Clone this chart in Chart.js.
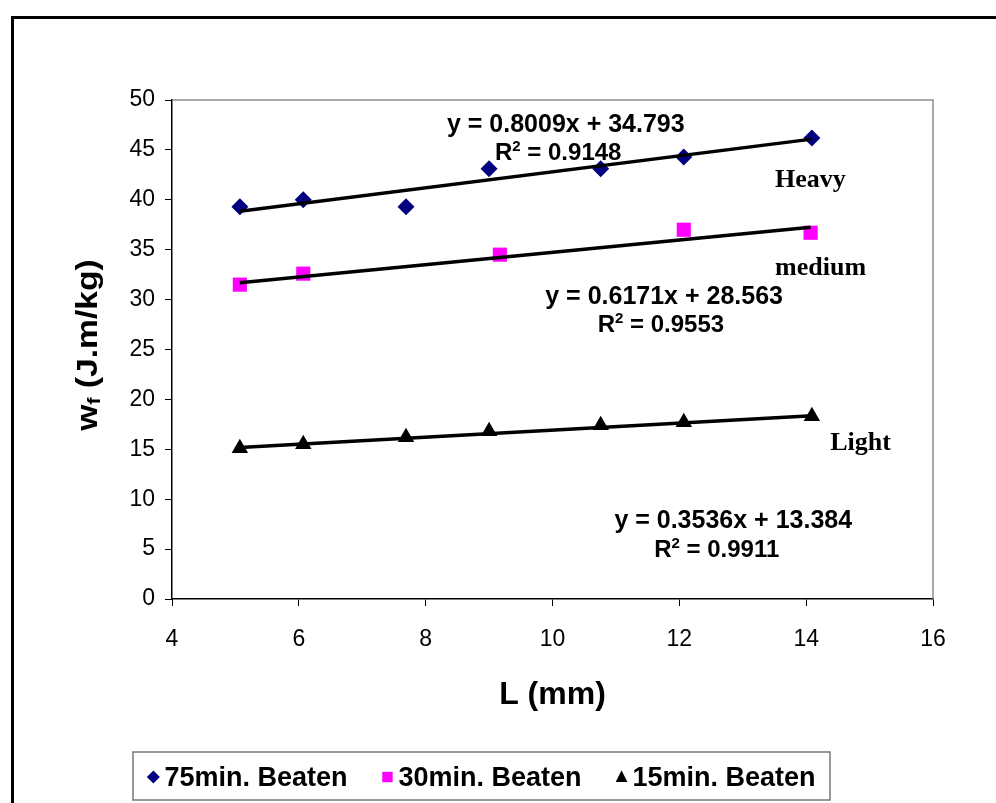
<!DOCTYPE html>
<html><head><meta charset="utf-8">
<script src="https://cdn.jsdelivr.net/npm/chart.js@4.4.1/dist/chart.umd.min.js"></script>
<style>
html,body{margin:0;padding:0;background:#fff;overflow:hidden;width:996px;height:803px}
#frame{position:absolute;left:11px;top:16px;width:1000px;height:800px;border-left:3px solid #000;border-top:3px solid #000;}
#wrap{position:absolute;left:0;top:0;width:996px;height:803px}
</style></head><body>
<div id="frame"></div>
<div id="wrap"><canvas id="c" width="996" height="803"></canvas></div>
<script>
// ---- data ----
const heavyX  = [5.07, 6.07, 7.69, 9.0, 10.76, 12.07, 14.09];
const heavyY  = [39.3, 40.0, 39.3, 43.1, 43.1, 44.3, 46.2];
const mediumX = [5.07, 6.07, 9.17, 12.07, 14.07];
const mediumY = [31.5, 32.6, 34.5, 37.0, 36.7];
const lightX  = [5.07, 6.07, 7.69, 9.0, 10.76, 12.07, 14.09];
const lightY  = [15.1, 15.5, 16.2, 16.8, 17.4, 17.7, 18.3];
// trendline end points (from the printed equations)
const heavyTrendX  = [5.07, 14.09];
const heavyTrendY  = [38.85, 46.08];
const mediumTrendX = [5.07, 14.07];
const mediumTrendY = [31.69, 37.25];
const lightTrendX  = [5.07, 14.09];
const lightTrendY  = [15.18, 18.37];

const seriesNames = ['75min. Beaten', '30min. Beaten', '15min. Beaten'];
const groupNames  = ['Heavy', 'medium', 'Light'];
const equations   = ['y = 0.8009x + 34.793', 'y = 0.6171x + 28.563', 'y = 0.3536x + 13.384'];
const rSquared    = ['0.9148', '0.9553', '0.9911'];
const xAxisTitle  = 'L (mm)';
const yAxisTitleMain = 'w', yAxisTitleSub = 'f', yAxisTitleRest = ' (J.m/kg)';
const xTickMin = 4, xTickMax = 16, xTickStep = 2;
const yTickMin = 0, yTickMax = 50, yTickStep = 5;

const pts = (xs, ys) => xs.map((x, i) => ({x, y: ys[i]}));

const SANS = '"Liberation Sans", Arial, sans-serif';
const SERIF = '"Liberation Serif", "Times New Roman", serif';
const colors = ['#000080', '#FF00FF', '#000000'];
const styles = ['rectRot', 'rect', 'triangle'];

// annotation anchors (data coordinates of text centres)
const eqAnchors  = [{x: 10.21, y: 47.7}, {x: 11.76, y: 30.5}, {x: 12.85, y: 8.0}];
const r2Anchors  = [{x: 10.09, y: 44.8}, {x: 11.71, y: 27.6}, {x: 12.59, y: 5.1}];
const grpAnchors = [{x: 13.51, y: 42.2}, {x: 13.51, y: 33.4}, {x: 14.38, y: 15.8}];

function rich(ctx, segs, x, y, align) {
  let w = 0;
  segs.forEach(s => { ctx.font = s.f; s.w = ctx.measureText(s.t).width; w += s.w; });
  let cx = align === 'center' ? x - w / 2 : x;
  ctx.textAlign = 'left'; ctx.textBaseline = 'alphabetic';
  segs.forEach(s => { ctx.font = s.f; ctx.fillText(s.t, cx, y + (s.dy || 0)); cx += s.w; });
}

function marker(ctx, style, color, x, y, r) {
  ctx.fillStyle = color; ctx.beginPath();
  if (style === 'rectRot') { ctx.moveTo(x, y - r); ctx.lineTo(x + r, y); ctx.lineTo(x, y + r); ctx.lineTo(x - r, y); }
  else if (style === 'rect') { ctx.rect(x - r * 0.8, y - r * 0.8, r * 1.6, r * 1.6); }
  else { ctx.moveTo(x, y - r * 1.05); ctx.lineTo(x + r * 0.9, y + r * 0.75); ctx.lineTo(x - r * 0.9, y + r * 0.75); }
  ctx.closePath(); ctx.fill();
}

const deco = {
  id: 'deco',
  beforeDatasetsDraw(chart) {
    const {ctx, chartArea: a} = chart;
    ctx.save();
    ctx.strokeStyle = '#8c8c8c'; ctx.lineWidth = 1.5;
    ctx.beginPath(); ctx.moveTo(a.left, a.top); ctx.lineTo(a.right, a.top); ctx.lineTo(a.right, a.bottom); ctx.stroke();
    ctx.restore();
  },
  afterDraw(chart) {
    const {ctx, chartArea: a} = chart;
    const sx = chart.scales.x, sy = chart.scales.y;
    ctx.save();
    ctx.fillStyle = '#000';
    const eqFont = 'bold 25px ' + SANS, r2Font = 'bold 24px ' + SANS, supFont = 'bold 15px ' + SANS;
    for (let i = 0; i < 3; i++) {
      rich(ctx, [{t: equations[i], f: eqFont}], sx.getPixelForValue(eqAnchors[i].x), sy.getPixelForValue(eqAnchors[i].y) + 9, 'center');
      rich(ctx, [{t: 'R', f: r2Font}, {t: '2', f: supFont, dy: -9}, {t: ' = ' + rSquared[i], f: r2Font}],
        sx.getPixelForValue(r2Anchors[i].x), sy.getPixelForValue(r2Anchors[i].y) + 8.5, 'center');
      rich(ctx, [{t: groupNames[i], f: 'bold 26px ' + SERIF}], sx.getPixelForValue(grpAnchors[i].x), sy.getPixelForValue(grpAnchors[i].y) + 9, 'left');
    }
    // axis titles
    rich(ctx, [{t: xAxisTitle, f: 'bold 32px ' + SANS}], (a.left + a.right) / 2, 704, 'center');
    ctx.save();
    ctx.translate(97, 345);
    ctx.rotate(-Math.PI / 2);
    ctx.scale(1.12, 1);
    rich(ctx, [{t: yAxisTitleMain, f: 'bold 30px ' + SANS}, {t: yAxisTitleSub, f: 'bold 19px ' + SANS, dy: 3}, {t: yAxisTitleRest, f: 'bold 30px ' + SANS}], 0, 0, 'center');
    ctx.restore();
    // legend
    const bx = 133, by = 752, bw = 697, bh = 48;
    ctx.fillStyle = '#fff'; ctx.fillRect(bx, by, bw, bh);
    ctx.strokeStyle = '#777'; ctx.lineWidth = 1.5; ctx.strokeRect(bx, by, bw, bh);
    const lf = 'bold 27px ' + SANS;
    ctx.font = lf;
    const gap = 34, mw = 12, mg = 5;
    const widths = seriesNames.map(n => ctx.measureText(n).width);
    const total = widths.reduce((s, w) => s + w + mw + mg, 0) + gap * 2;
    let x = bx + (bw - total) / 2;
    const cy = by + bh / 2;
    for (let i = 0; i < 3; i++) {
      marker(ctx, styles[i], colors[i], x + mw / 2, cy + 1, 6.5);
      ctx.fillStyle = '#000';
      rich(ctx, [{t: seriesNames[i], f: lf}], x + mw + mg, cy + 10, 'left');
      x += mw + mg + widths[i] + gap;
    }
    ctx.restore();
  }
};

const pointDs = (label, data, i, r) => ({
  label, data, showLine: false, order: 2,
  pointStyle: styles[i], pointRadius: r, pointHoverRadius: r,
  backgroundColor: colors[i], borderColor: colors[i], borderWidth: 0
});
const trendDs = (data) => ({
  label: 'trend', data, showLine: true, order: 1, pointRadius: 0,
  borderColor: '#000', borderWidth: 3.5, fill: false
});

new Chart(document.getElementById('c'), {
  type: 'scatter',
  data: {
    datasets: [
      pointDs(seriesNames[0], pts(heavyX, heavyY), 0, 8.5),
      pointDs(seriesNames[1], pts(mediumX, mediumY), 1, 10),
      pointDs(seriesNames[2], pts(lightX, lightY), 2, 9.5),
      trendDs(pts(heavyTrendX, heavyTrendY)),
      trendDs(pts(mediumTrendX, mediumTrendY)),
      trendDs(pts(lightTrendX, lightTrendY))
    ]
  },
  options: {
    responsive: false, animation: false, devicePixelRatio: 1,
    layout: {padding: {top: 100, right: 63, left: 0, bottom: 0}},
    plugins: {legend: {display: false}, tooltip: {enabled: false}},
    scales: {
      x: {
        type: 'linear', min: xTickMin, max: xTickMax,
        ticks: {stepSize: xTickStep, color: '#000', font: {family: SANS, size: 23}, padding: 20},
        grid: {drawOnChartArea: false, drawTicks: true, tickLength: 7, color: '#000', lineWidth: 1},
        border: {display: true, color: '#000', width: 1.5},
        afterFit(s) { s.height = 204; }
      },
      y: {
        type: 'linear', min: yTickMin, max: yTickMax,
        ticks: {stepSize: yTickStep, color: '#000', font: {family: SANS, size: 23}, padding: 10},
        grid: {drawOnChartArea: false, drawTicks: true, tickLength: 7, color: '#000', lineWidth: 1},
        border: {display: true, color: '#000', width: 1.5},
        afterFit(s) { s.width = 172; }
      }
    }
  },
  plugins: [deco]
});
</script>
</body></html>
